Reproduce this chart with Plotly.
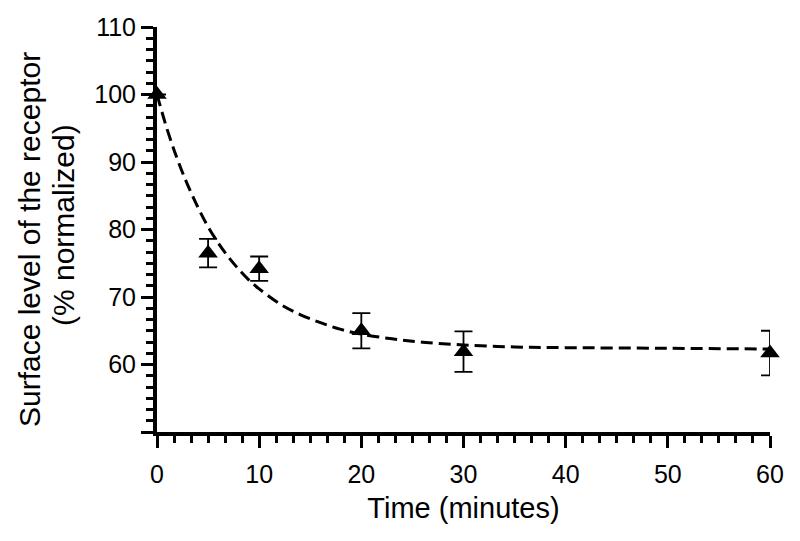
import plotly.graph_objects as go

# measured points (mean +/- error)
time_min = [0, 5, 10, 20, 30, 60]
surface_pct = [100, 76.5, 74.2, 65.0, 61.9, 61.7]
surface_err = [0, 2.1, 1.8, 2.6, 3.0, 3.3]

# fitted decay curve
fit_time = [0, 1, 2, 3, 4, 5, 6, 7, 8, 9, 10, 12, 14, 16, 18, 20, 23, 26, 30, 35, 40, 50, 60]
fit_pct = [100, 94.8, 90.4, 86.6, 83.3, 80.4, 78.0, 75.9, 74.1, 72.5, 71.2, 69.0, 67.4,
           66.2, 65.2, 64.5, 63.8, 63.3, 62.9, 62.6, 62.5, 62.4, 62.3]

y_ticks = [50, 60, 70, 80, 90, 100, 110]
y_labels = ["", "60", "70", "80", "90", "100", "110"]

font_name = "Liberation Sans, Arial, sans-serif"

fig = go.Figure()
fig.add_trace(go.Scatter(
    x=fit_time, y=fit_pct, mode="lines",
    line=dict(color="black", width=3, dash="12px,6px", shape="spline"),
    hoverinfo="skip", showlegend=False, cliponaxis=False,
))
fig.add_trace(go.Scatter(
    x=time_min, y=surface_pct, mode="markers",
    marker=dict(symbol="triangle-up", size=17, color="black"),
    error_y=dict(type="data", array=surface_err, visible=True,
                 color="black", thickness=1.8, width=9),
    showlegend=False, cliponaxis=False,
))

# page body has an 8px margin, so the figure is 8px smaller than the window
fig.update_layout(
    width=792, height=533,
    margin=dict(l=149, r=30, t=19, b=109),
    plot_bgcolor="white", paper_bgcolor="white",
    font=dict(family=font_name, size=25, color="black"),
)
fig.update_xaxes(
    range=[0, 60], tickmode="linear", tick0=0, dtick=10, automargin=False,
    showline=True, linecolor="black", linewidth=4, showgrid=False, zeroline=False,
    ticks="outside", ticklen=12, tickwidth=3, tickcolor="black", ticklabelstandoff=5,
    minor=dict(tickmode="linear", tick0=0, dtick=10 / 6, ticks="outside",
               ticklen=7, tickwidth=3, tickcolor="black", showgrid=False),
    title=dict(text="Time (minutes)", standoff=12, font=dict(size=29)),
    tickfont=dict(size=25),
)
fig.update_yaxes(
    range=[50, 110], tickmode="array", tickvals=y_ticks, ticktext=y_labels,
    automargin=False,
    showline=True, linecolor="black", linewidth=4, showgrid=False, zeroline=False,
    ticks="outside", ticklen=12, tickwidth=3, tickcolor="black",
    minor=dict(tickmode="linear", tick0=50, dtick=10 / 6, ticks="outside",
               ticklen=7, tickwidth=3, tickcolor="black", showgrid=False),
    tickfont=dict(size=25),
)

# y title as two rotated lines, spaced tighter than plotly's <br>
fig.add_annotation(text="Surface level of the receptor", textangle=-90,
                   xref="paper", yref="paper", x=0, y=0.474, xshift=-128,
                   xanchor="center", yanchor="middle",
                   showarrow=False, font=dict(size=30))
fig.add_annotation(text="(% normalized)", textangle=-90,
                   xref="paper", yref="paper", x=0, y=0.511, xshift=-94,
                   xanchor="center", yanchor="middle",
                   showarrow=False, font=dict(size=30))

fig.write_html("out.html")
